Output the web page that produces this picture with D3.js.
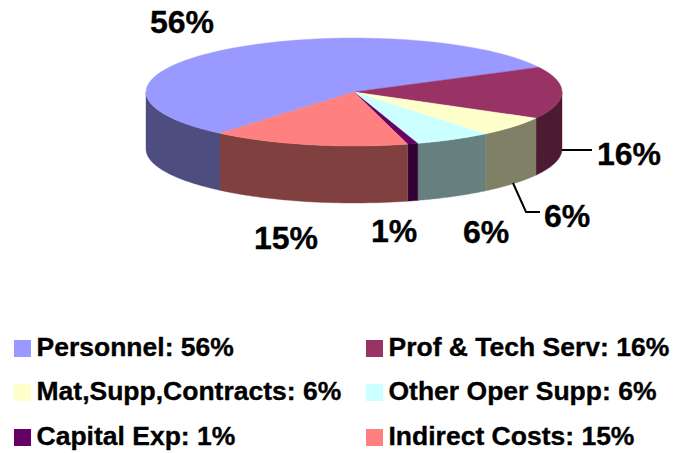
<!DOCTYPE html>
<html>
<head>
<meta charset="utf-8">
<script src="https://cdn.jsdelivr.net/npm/d3@7"></script>
<style>
html, body { margin: 0; padding: 0; background: #fff; }
text { font-family: "Liberation Sans", Arial, sans-serif; font-weight: bold; fill: #000; stroke: #000; stroke-width: 0.35; }
</style>
</head>
<body>
<svg id="chart" width="673" height="453"></svg>
<script>
var categories = ['Personnel', 'Prof & Tech Serv', 'Mat,Supp,Contracts', 'Other Oper Supp', 'Capital Exp', 'Indirect Costs'];
var shares = [56.3, 15.6, 6.1, 5.9, 0.8, 15.3];
var topColors = ['#9999ff', '#993366', '#ffffcc', '#ccffff', '#660066', '#ff8080'];
var labelPos = [[182, 33], [629, 165], [567, 227], [486, 243], [394, 242], [286, 249]];

var svg = d3.select('#chart');
var cx = 354, cy = 92, rx = 208, ry = 54, depth = 57;
var firstAngle = -139.9 * Math.PI / 180;

var pie = d3.pie().sort(null).startAngle(firstAngle).endAngle(firstAngle + 2 * Math.PI);
var slices = pie(shares);

function px(a) { return cx + rx * Math.sin(a); }
function py(a) { return cy - ry * Math.cos(a); }

function sidePath(a0, a1) {
    var p = d3.path();
    var n = 40, i, a;
    p.moveTo(px(a0), py(a0));
    for (i = 1; i <= n; i++) {
        a = a0 + (a1 - a0) * i / n;
        p.lineTo(px(a), py(a));
    }
    for (i = n; i >= 0; i--) {
        a = a0 + (a1 - a0) * i / n;
        p.lineTo(px(a), py(a) + depth);
    }
    p.closePath();
    return p.toString();
}

function topPath(a0, a1) {
    var p = d3.path();
    var n = 80, i, a;
    p.moveTo(cx, cy);
    for (i = 0; i <= n; i++) {
        a = a0 + (a1 - a0) * i / n;
        p.lineTo(px(a), py(a));
    }
    p.closePath();
    return p.toString();
}

function wallColor(i) {
    var c = d3.rgb(topColors[i]);
    return d3.rgb(c.r / 2, c.g / 2, c.b / 2).formatHex();
}

// wall is only visible on the front half of the ellipse
var front0 = Math.PI / 2, front1 = 3 * Math.PI / 2;
var walls = slices.map(function(d, i) {
    var a0 = d.startAngle, a1 = d.endAngle;
    if (a0 < 0) { a0 += 2 * Math.PI; a1 += 2 * Math.PI; }
    return { i: i, s: Math.max(a0, front0), e: Math.min(a1, front1) };
}).filter(function(w) { return w.e > w.s; });

svg.selectAll('path.wall')
    .data(walls)
    .join('path')
    .attr('class', 'wall')
    .attr('d', function(w) { return sidePath(w.s, w.e); })
    .attr('fill', function(w) { return wallColor(w.i); })
    .attr('stroke', function(w) { return wallColor(w.i); })
    .attr('stroke-width', 0.4);

svg.selectAll('path.top')
    .data(slices)
    .join('path')
    .attr('class', 'top')
    .attr('d', function(d) { return topPath(d.startAngle, d.endAngle); })
    .attr('fill', function(d, i) { return topColors[i]; })
    .attr('stroke', function(d, i) { return topColors[i]; })
    .attr('stroke-width', 0.4);

// leader lines
var leaders = [[[562, 150], [592, 150]], [[513, 183], [526, 212], [540, 212]]];
var line = d3.line();
svg.selectAll('path.leader')
    .data(leaders)
    .join('path')
    .attr('class', 'leader')
    .attr('d', line)
    .attr('fill', 'none')
    .attr('stroke', '#000')
    .attr('stroke-width', 2);

svg.selectAll('text.pct')
    .data(shares)
    .join('text')
    .attr('class', 'pct')
    .attr('x', function(d, i) { return labelPos[i][0]; })
    .attr('y', function(d, i) { return labelPos[i][1]; })
    .attr('text-anchor', 'middle')
    .attr('font-size', 32)
    .text(function(d) { return Math.round(d) + '%'; });

var legendX = [14, 366], legendY = [340, 384, 429];
var legend = svg.selectAll('g.legend')
    .data(categories)
    .join('g')
    .attr('class', 'legend')
    .attr('transform', function(d, i) {
        return 'translate(' + legendX[i % 2] + ',' + legendY[Math.floor(i / 2)] + ')';
    });
legend.append('rect')
    .attr('width', 17)
    .attr('height', 17)
    .attr('fill', function(d, i) { return topColors[i]; });
legend.append('text')
    .attr('x', 22.5)
    .attr('y', 15.5)
    .attr('font-size', 26.5)
    .text(function(d, i) { return d + ': ' + Math.round(shares[i]) + '%'; });
</script>
</body>
</html>
